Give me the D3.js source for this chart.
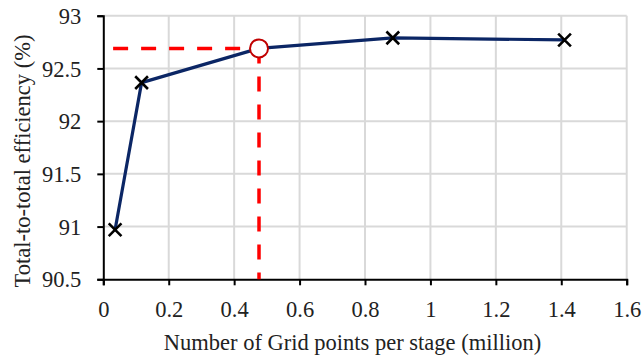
<!DOCTYPE html>
<html>
<head>
<meta charset="utf-8">
<script src="https://cdn.jsdelivr.net/npm/d3@7"></script>
<style>
body{margin:0;background:#fff;}
svg text{font-family:"Liberation Serif","Times New Roman",serif;fill:#222;}
</style>
</head>
<body>
<div id="content"></div>
<script>
// data
var gridPoints = [0.036, 0.117, 0.476, 0.885, 1.41];
var efficiency = [90.97, 92.365, 92.69, 92.79, 92.77];
var markerType = ["cross", "cross", "circle", "cross", "cross"];
var xTicks = [0, 0.2, 0.4, 0.6, 0.8, 1, 1.2, 1.4, 1.6];
var yTicks = [90.5, 91, 91.5, 92, 92.5, 93];
var chosenX = 0.476, chosenY = 92.69, guideStartX = 0.03;

var width = 644, height = 360;
var margin = {left:103.3, top:15.7, right:17.3, bottom:80.7};
var fontSize = 22.5;
var crossShape = "M-9,0L9,0M0,-9L0,9";

var svg = d3.select("#content").append("svg")
	.attr("width", width)
	.attr("height", height);

var x = d3.scaleLinear().domain([0, 1.6]).range([margin.left, width-margin.right]);
var y = d3.scaleLinear().domain([90.5, 93]).range([height-margin.bottom, margin.top]);

// grid
svg.append("g").selectAll("line").data(xTicks.slice(1)).enter().append("line")
	.attr("x1", function(d){return x(d);}).attr("x2", function(d){return x(d);})
	.attr("y1", y(90.5)).attr("y2", y(93))
	.attr("stroke", "#d9d9d9").attr("stroke-width", 2);
svg.append("g").selectAll("line").data(yTicks.slice(1)).enter().append("line")
	.attr("x1", x(0)).attr("x2", x(1.6))
	.attr("y1", function(d){return y(d);}).attr("y2", function(d){return y(d);})
	.attr("stroke", "#d9d9d9").attr("stroke-width", 2);

// axes
var xAxis = svg.append("g").attr("transform", "translate(0," + y(90.5) + ")")
	.call(d3.axisBottom(x).tickValues(xTicks).tickFormat(d3.format("")).tickSize(6).tickPadding(16));
var yAxis = svg.append("g").attr("transform", "translate(" + x(0) + ",0)")
	.call(d3.axisLeft(y).tickValues(yTicks).tickFormat(d3.format("")).tickSize(6).tickPadding(16));
[xAxis, yAxis].forEach(function(a){
	a.attr("font-family", null);
	a.select(".domain").attr("stroke", "#000").attr("stroke-width", 2);
	a.selectAll(".tick line").attr("stroke", "#000").attr("stroke-width", 2);
	a.selectAll(".tick text")
		.style("font-family", "'Liberation Serif', serif")
		.style("font-size", fontSize + "px")
		.style("fill", "#222");
});
yAxis.selectAll(".tick text").attr("dy", "0.34em");

// red guide lines
svg.append("line")
	.attr("x1", x(guideStartX)).attr("x2", x(chosenX))
	.attr("y1", y(chosenY)).attr("y2", y(chosenY))
	.attr("stroke", "#ff0000").attr("stroke-width", 3.5).attr("stroke-dasharray", "15,13");
svg.append("line")
	.attr("x1", x(chosenX)).attr("x2", x(chosenX))
	.attr("y1", y(chosenY)).attr("y2", y(90.5))
	.attr("stroke", "#ff0000").attr("stroke-width", 3.5).attr("stroke-dasharray", "15,13");

// series line
var pts = gridPoints.map(function(d,i){return [d, efficiency[i], markerType[i]];});
svg.append("path").datum(pts)
	.attr("d", d3.line().x(function(d){return x(d[0]);}).y(function(d){return y(d[1]);}))
	.attr("fill", "none").attr("stroke", "#0b2665").attr("stroke-width", 3.2).attr("stroke-linejoin", "round");

// markers
svg.append("g").selectAll("path").data(pts.filter(function(d){return d[2]=="cross";})).enter().append("path")
	.attr("transform", function(d){return "translate(" + x(d[0]) + "," + y(d[1]) + ") rotate(45)";})
	.attr("d", crossShape)
	.attr("stroke", "#000").attr("stroke-width", 2.6).attr("fill", "none");
svg.append("g").selectAll("circle").data(pts.filter(function(d){return d[2]=="circle";})).enter().append("circle")
	.attr("cx", function(d){return x(d[0]);}).attr("cy", function(d){return y(d[1]);})
	.attr("r", 9).attr("fill", "#fff").attr("stroke", "#c00000").attr("stroke-width", 2);

// titles
svg.append("text").attr("x", 352.5).attr("y", 350).attr("text-anchor", "middle")
	.style("font-size", fontSize + "px").text("Number of Grid points per stage (million)");
svg.append("text").attr("transform", "translate(30,161) rotate(-90)")
	.attr("text-anchor", "middle").style("font-size", fontSize + "px").text("Total-to-total efficiency (%)");
</script>
</body>
</html>
